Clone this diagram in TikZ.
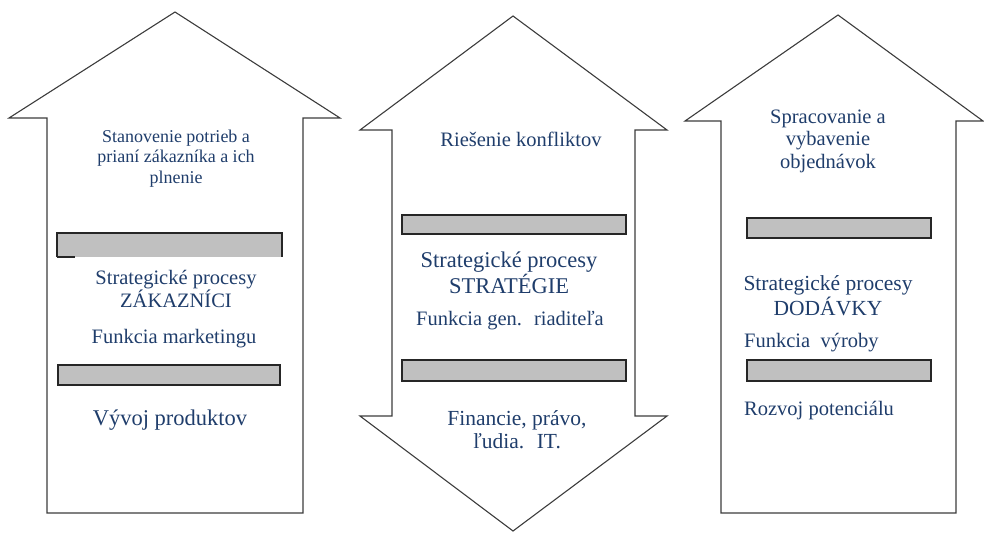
\documentclass[tikz,border=0pt]{standalone}
\usepackage{fontspec}
\setmainfont{Liberation Serif}
\usetikzlibrary{positioning}
\definecolor{modra}{HTML}{1F3D6B}
\definecolor{siva}{HTML}{C0C0C0}
\definecolor{obrys}{HTML}{3C3C3C}
\tikzset{
    sipka/.style={draw=obrys, line width=1.1pt, line join=miter},
    pruh/.style={draw=black!85, fill=siva, line width=1.4pt},
    popis/.style={text=modra, align=center, inner sep=0pt, anchor=base}
}

\begin{document}
\begin{tikzpicture}[x=1pt, y=-1pt,
        % velkosti pisma
        maly/.style={popis, font=\fontsize{18}{20.5}\selectfont},
        stredny/.style={popis, font=\fontsize{20.5}{22.5}\selectfont},
        velky/.style={popis, font=\fontsize{22.5}{23}\selectfont}
    ]
    \useasboundingbox (0,0) rectangle (984,535);

    % --- SIPKY ---
    % Zakaznici (hore)
    \draw[sipka] (175,12) -- (340,118) -- (303,118) -- (303,513) -- (47,513)
        -- (47,118) -- (9,118) -- cycle;
    % Strategie (obojsmerna)
    \draw[sipka] (513,16) -- (667,130) -- (635,130) -- (635,416) -- (667,416)
        -- (513,531) -- (360,416) -- (392,416) -- (392,130) -- (360,130) -- cycle;
    % Dodavky (hore)
    \draw[sipka] (838,15) -- (983,121) -- (956,121) -- (956,513) -- (721,513)
        -- (721,121) -- (685,121) -- cycle;

    % --- SIVE PRUHY ---
    \fill[siva] (57,233) rectangle (282,257);
    \draw[pruh, fill=none] (57,257) -- (57,233) -- (282,233) -- (282,257);
    \draw[pruh] (57,257) -- (75,257);
    \draw[pruh] (58,365) rectangle (280,385);
    \draw[pruh] (402,215) rectangle (626,234);
    \draw[pruh] (402,360) rectangle (626,381);
    \draw[pruh] (747,218) rectangle (931,238);
    \draw[pruh] (747,360) rectangle (931,381);

    % --- TEXTY: zakaznici ---
    % (base viacriadkoveho uzla = posledny riadok)
    \node[maly] (potreby) at (176,183) {Stanovenie potrieb a\\ prianí zákazníka a ich\\ plnenie};
    \node[stredny] (zakaznici) at (176,307) {Strategické procesy\\ ZÁKAZNÍCI};
    \node[stredny] (marketing) at (174,343) {Funkcia marketingu};
    \node[velky] (produkty) at (170,425) {Vývoj produktov};

    % --- TEXTY: strategie ---
    \node[stredny] (konflikty) at (521,146) {Riešenie konfliktov};
    \node[velky] (strategie) at (509,293) {Strategické procesy\\ STRATÉGIE};
    \node[stredny] (riaditel) at (510,325) {Funkcia gen.~ riaditeľa};
    \node[stredny, font=\fontsize{21.5}{23}\selectfont] (financie) at (517,448) {Financie, právo,\\ ľudia.~ IT.};

    % --- TEXTY: dodavky ---
    \node[stredny] (objednavky) at (828,168) {Spracovanie a\\ vybavenie\\ objednávok};
    \node[stredny, font=\fontsize{21.5}{25}\selectfont] (dodavky) at (828,315) {Strategické procesy\\ DODÁVKY};
    \node[stredny, anchor=base west] (vyroba) at (744,347) {Funkcia~ výroby};
    \node[stredny, anchor=base west] (potencial) at (744,415) {Rozvoj potenciálu};
\end{tikzpicture}
\end{document}
